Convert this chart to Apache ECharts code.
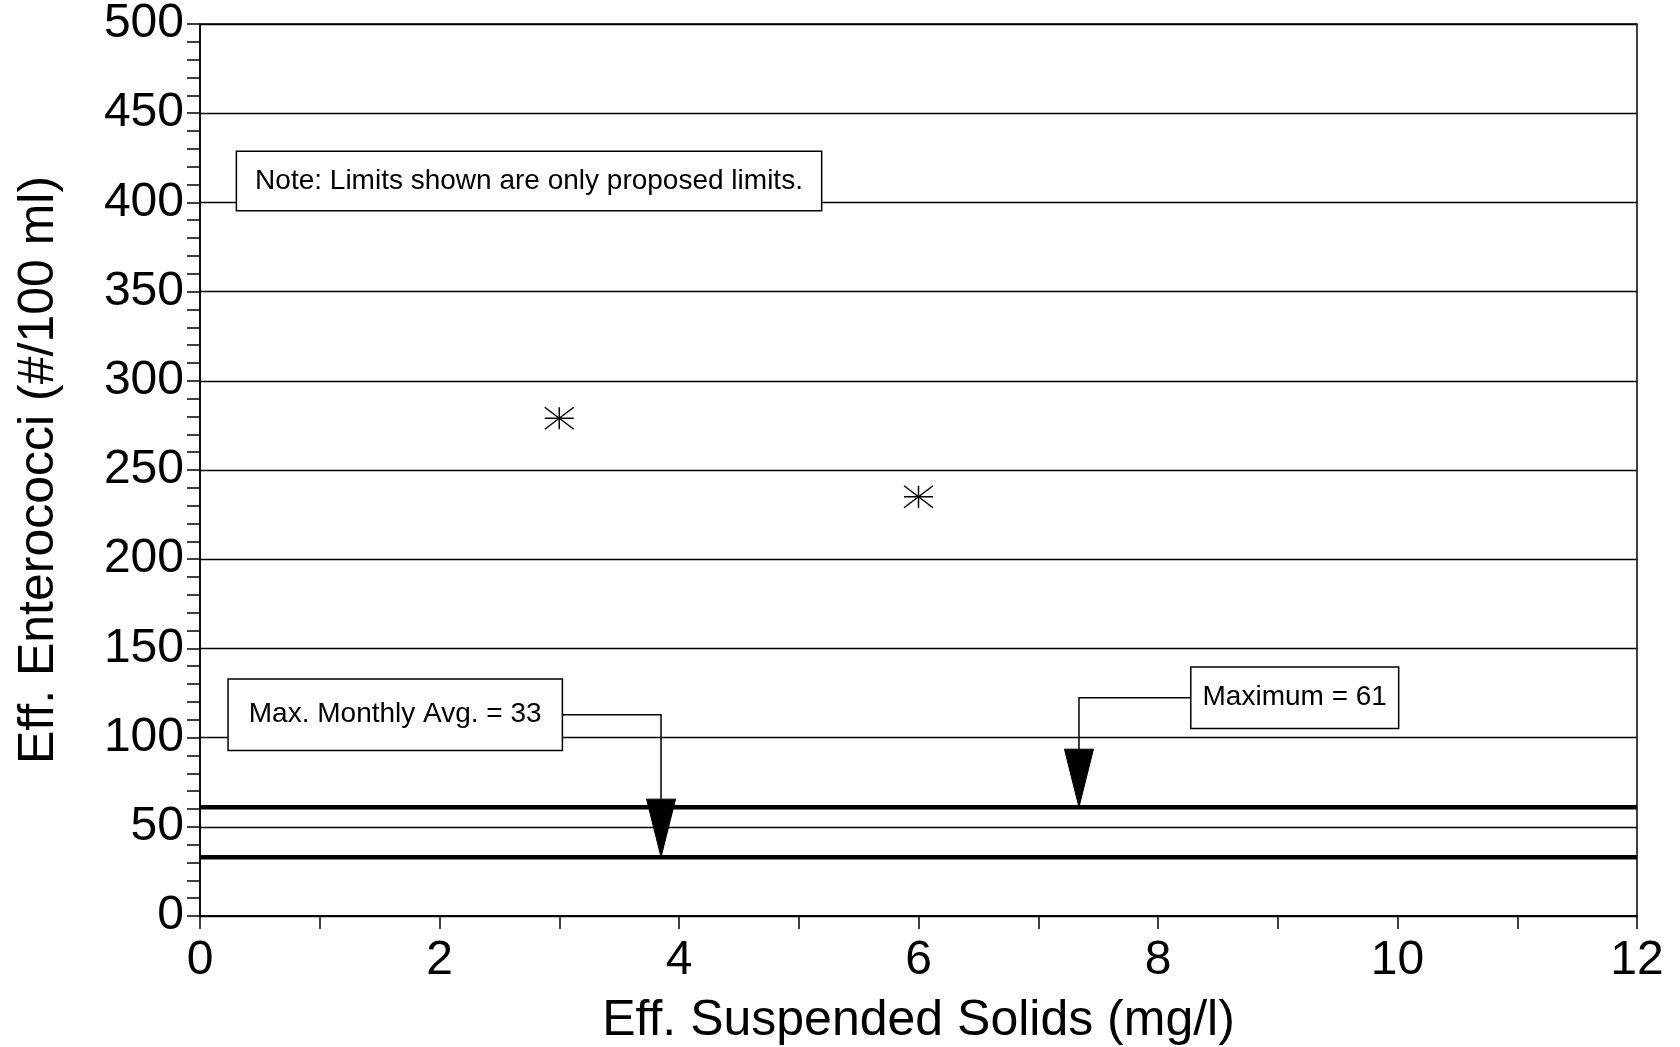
<!DOCTYPE html>
<html>
<head>
<meta charset="utf-8">
<title>Eff. Enterococci vs Eff. Suspended Solids</title>
<script src="https://cdn.jsdelivr.net/npm/echarts@6/dist/echarts.min.js"></script>
<style>
  html, body { margin: 0; padding: 0; background: #fff; }
  #chart { width: 1680px; height: 1047px; }
</style>
</head>
<body>
<div id="chart"></div>
<script>
// Observed samples: effluent suspended solids (mg/l) vs enterococci (#/100 ml)
const suspendedSolids = [3, 6];
const enterococci = [279, 235];

// Proposed permit limits (horizontal lines) and their callouts
const limitNames = ['Max. Monthly Avg. = 33', 'Maximum = 61'];
const limitValues = [33, 61];
// Callout anchors in data units: arrow stem x, leader height, box edge x
const arrowX = [3.85, 7.34];
const leaderY = [112.8, 122.4];
const boxEdgeX = [3.02, 8.28];

const noteText = 'Note: Limits shown are only proposed limits.';
const noteAnchor = [0.31, 412];

// Axis ranges and tick steps
const xMin = 0, xMax = 12, xStep = 2;
const yMin = 0, yMax = 500, yStep = 50;

const FONT = '"Liberation Sans", Arial, Helvetica, sans-serif';
const INK = '#000';

const chart = echarts.init(document.getElementById('chart'), null, { renderer: 'canvas' });

const boxPadding = [[20, 20], [15, 11]];

chart.setOption({
  animation: false,
  backgroundColor: '#fff',
  grid: {
    left: 200, right: 43, top: 24, bottom: 131,
    show: true, borderColor: INK, borderWidth: 1.5,
    outerBoundsMode: 'none'
  },
  xAxis: {
    type: 'value', min: xMin, max: xMax, interval: xStep,
    name: 'Eff. Suspended Solids (mg/l)',
    nameLocation: 'middle', nameGap: 80,
    nameTextStyle: { fontFamily: FONT, fontSize: 50, color: INK },
    axisLine: { show: true, lineStyle: { color: INK, width: 1.5 } },
    axisTick: { show: true, inside: false, length: 13, lineStyle: { color: INK, width: 1.5 } },
    minorTick: { show: true, splitNumber: 2, length: 13, lineStyle: { color: INK, width: 1.5 } },
    axisLabel: { fontFamily: FONT, fontSize: 48, color: INK, margin: 21 },
    splitLine: { show: false }
  },
  yAxis: {
    type: 'value', min: yMin, max: yMax, interval: yStep,
    name: 'Eff. Enterococci (#/100 ml)',
    nameLocation: 'middle', nameGap: 136,
    nameTextStyle: { fontFamily: FONT, fontSize: 50, color: INK },
    axisLine: { show: true, lineStyle: { color: INK, width: 1.5 } },
    axisTick: { show: true, inside: false, length: 13, lineStyle: { color: INK, width: 1.5 } },
    minorTick: { show: true, splitNumber: 5, length: 13, lineStyle: { color: INK, width: 1.5 } },
    axisLabel: { fontFamily: FONT, fontSize: 48, color: INK, margin: 16 },
    splitLine: { show: true, lineStyle: { color: INK, width: 1.3 } }
  },
  series: [
    // Limit lines
    ...limitValues.map(v => ({
      type: 'line',
      data: [[xMin, v], [xMax, v]],
      symbol: 'none',
      silent: true,
      z: 3,
      lineStyle: { color: INK, width: 4.5 }
    })),
    // Asterisk markers for the samples
    {
      type: 'custom',
      z: 5,
      data: suspendedSolids.map((x, i) => [x, enterococci[i]]),
      renderItem(params, api) {
        const p = api.coord([api.value(0), api.value(1)]);
        const hw = 14.5, hh = 11;
        const st = { stroke: INK, lineWidth: 1.5 };
        return {
          type: 'group',
          children: [
            { type: 'line', shape: { x1: p[0] - hw, y1: p[1], x2: p[0] + hw, y2: p[1] }, style: st },
            { type: 'line', shape: { x1: p[0], y1: p[1] - hh, x2: p[0], y2: p[1] + hh }, style: st },
            { type: 'line', shape: { x1: p[0] - hw, y1: p[1] - hh, x2: p[0] + hw, y2: p[1] + hh }, style: st },
            { type: 'line', shape: { x1: p[0] - hw, y1: p[1] + hh, x2: p[0] + hw, y2: p[1] - hh }, style: st }
          ]
        };
      }
    },
    // Callouts with arrows pointing at each limit line
    {
      type: 'custom',
      z: 6,
      clip: false,
      data: limitValues.map((v, i) => [arrowX[i], leaderY[i], v, boxEdgeX[i], i]),
      encode: { x: 0, y: 1 },
      renderItem(params, api) {
        const i = api.value(4);
        const tip = api.coord([api.value(0), api.value(2)]);
        const lead = api.coord([api.value(0), api.value(1)]);
        const edge = api.coord([api.value(3), api.value(1)]);
        const headH = 58, headW = 29;
        const headTop = tip[1] - headH;
        return {
          type: 'group',
          children: [
            {
              type: 'polyline',
              shape: { points: [[edge[0], lead[1]], [lead[0], lead[1]], [lead[0], headTop]] },
              style: { stroke: INK, lineWidth: 1.5, fill: null }
            },
            {
              type: 'polygon',
              shape: { points: [[tip[0] - headW / 2, headTop], [tip[0] + headW / 2, headTop], [tip[0], tip[1]]] },
              style: { fill: INK, stroke: INK, lineWidth: 1 }
            },
            {
              type: 'text',
              style: {
                text: limitNames[i],
                x: edge[0], y: lead[1],
                align: i === 0 ? 'right' : 'left',
                verticalAlign: 'middle',
                font: '28px ' + FONT,
                lineHeight: 30,
                fill: INK,
                backgroundColor: '#fff',
                borderColor: INK,
                borderWidth: 1.5,
                padding: boxPadding[i]
              }
            }
          ]
        };
      }
    },
    // Note box
    {
      type: 'custom',
      z: 6,
      data: [noteAnchor],
      renderItem(params, api) {
        const p = api.coord([api.value(0), api.value(1)]);
        return {
          type: 'text',
          style: {
            text: noteText,
            x: p[0], y: p[1],
            align: 'left', verticalAlign: 'middle',
            font: '28px ' + FONT,
            lineHeight: 30,
            fill: INK,
            backgroundColor: '#fff',
            borderColor: INK,
            borderWidth: 1.5,
            padding: [14, 18]
          }
        };
      }
    }
  ]
});
</script>
</body>
</html>
